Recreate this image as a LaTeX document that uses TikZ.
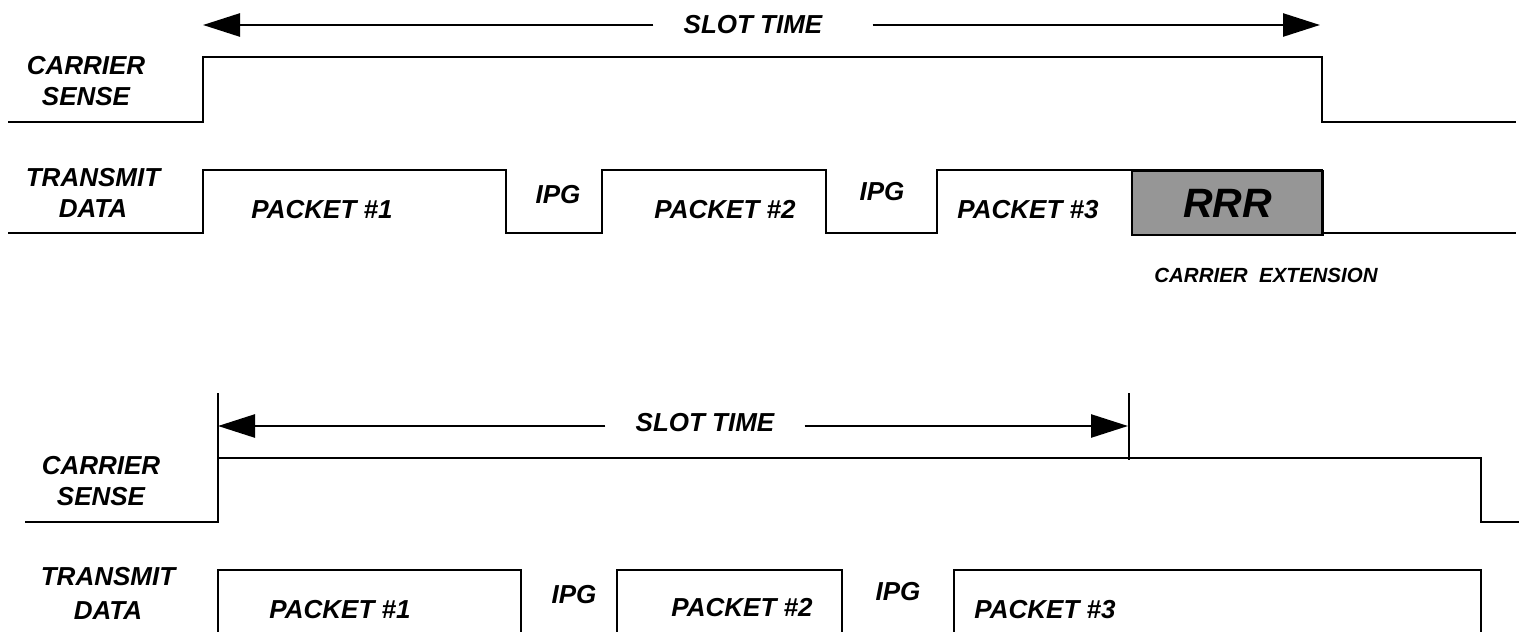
\documentclass[tikz,border=0pt]{standalone}
\usepackage{fontspec}
\setmainfont{Liberation Sans}
\usetikzlibrary{arrows.meta}
\definecolor{extgray}{RGB}{150,150,150}

\begin{document}
\begin{tikzpicture}[x=1pt,y=-1pt,
  wave/.style={line width=2.8pt,line join=miter},
  marker/.style={line width=2.2pt},
  lbl/.style={font=\fontsize{26}{31}\selectfont\bfseries\itshape,align=center,inner sep=0},
  slotarr/.style={line width=2.6pt,-{Triangle[length=37pt,width=23pt]}}]
\useasboundingbox (0,0) rectangle (1519,632);
\clip (0,0) rectangle (1519,632);
% upper diagram: with carrier extension
\coordinate (tipAL) at (203,25); \coordinate (tipAR) at (1320,25);
\node[lbl,inner xsep=30pt] (slotA) at (753,25) {SLOT TIME};
\draw[slotarr] (slotA.west |- tipAL) -- (tipAL);
\draw[slotarr] ([xshift=20pt]slotA.east |- tipAR) -- (tipAR);
\node[lbl] (csA) at (86,81) {CARRIER\\SENSE};
\node[lbl] (txA) at (93,192.5) {TRANSMIT\\DATA};
\draw[wave] (8,122) -- (203,122) -- (203,57) -- (1322,57) -- (1322,122) -- (1516,122);
\node[draw,line width=2.2pt,fill=extgray,minimum width=191pt,minimum height=64pt,inner sep=0,
  anchor=north west] (extA) at (1131,170) {};
\draw[wave] (8,233) -- (203,233) -- (203,170) -- (506,170) -- (506,233) -- (602,233) -- (602,170)
  -- (826,170) -- (826,233) -- (937,233) -- (937,170) -- (1322,170) -- (1322,233) -- (1516,233);
\foreach \x/\n in {322/1,725/2,1028/3} {\node[lbl] (pktA\n) at (\x,210) {PACKET \#\n};}
\node[lbl] (ipgA1) at (558,195) {IPG};
\node[lbl] (ipgA2) at (882,192) {IPG};
\node[lbl,font=\fontsize{41}{41}\selectfont\bfseries\itshape] (rrrA) at (extA.center) {RRR};
\node[lbl,font=\fontsize{20.5}{24}\selectfont\bfseries\itshape] (extlbl) at (1266,275) {CARRIER\ \ EXTENSION};
% lower diagram: no carrier extension
\coordinate (tipBL) at (218,426); \coordinate (tipBR) at (1128,426);
\draw[marker] (218,393) -- (218,523);
\draw[marker] (1129,393) -- (1129,460);
\node[lbl,inner xsep=30pt] (slotB) at (705,423) {SLOT TIME};
\draw[slotarr] (slotB.west |- tipBL) -- (tipBL);
\draw[slotarr] (slotB.east |- tipBR) -- (tipBR);
\node[lbl] (csB) at (101,481) {CARRIER\\SENSE};
\node[lbl,font=\fontsize{26}{34}\selectfont\bfseries\itshape] (txB) at (108,593) {TRANSMIT\\DATA};
\draw[wave] (25,522) -- (218,522) -- (218,458) -- (1481,458) -- (1481,522) -- (1519,522);
\foreach \l/\r in {218/521,617/842,954/1481} {\draw[wave] (\l,640) -- (\l,570) -- (\r,570) -- (\r,640);}
\node[lbl] (pktB1) at (340,610) {PACKET \#1};
\node[lbl] (pktB2) at (742,608) {PACKET \#2};
\node[lbl] (pktB3) at (1045,610) {PACKET \#3};
\node[lbl] (ipgB1) at (574,595) {IPG};
\node[lbl] (ipgB2) at (898,592) {IPG};
\end{tikzpicture}
\end{document}
